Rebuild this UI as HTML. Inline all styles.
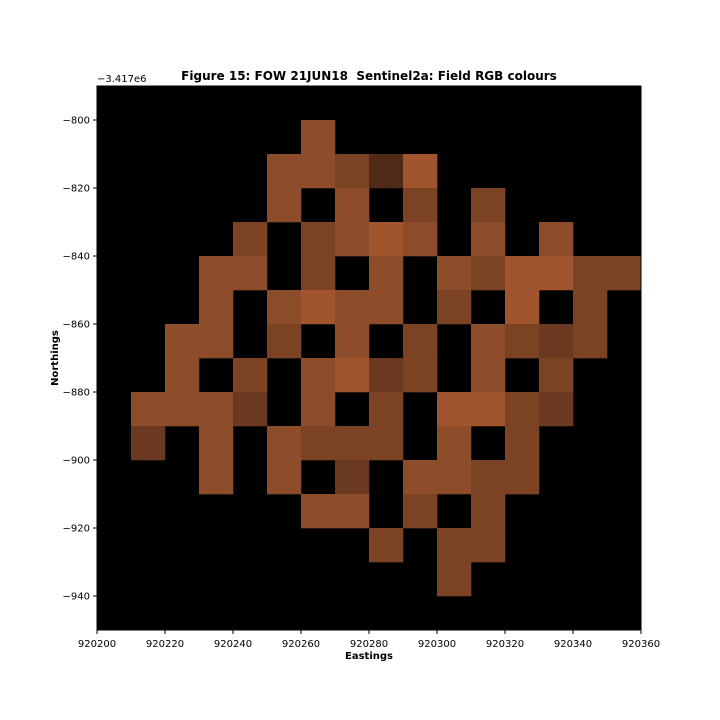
<!DOCTYPE html>
<html><head><meta charset="utf-8"><style>
html,body{margin:0;padding:0;background:#fff;}
svg{display:block;font-family:"DejaVu Sans","Liberation Sans",sans-serif;}
</style></head><body>
<svg id="chart" width="720" height="720" viewBox="0 0 720 720"></svg>
<script>
// Data
const xTicks = [920200,920220,920240,920260,920280,920300,920320,920340,920360];
const yTicks = [-800,-820,-840,-860,-880,-900,-920,-940];
const xOrigin = 920200;   // easting of first column
const yTopValue = -790;   // northing of top row
const cellSize = 10;
// grid rows from top; '.' empty, n normal, b bright, m medium-dark, k darker, d dark
const gridRows = [
"................",
"......n.........",
".....nnmdb......",
".....n.n.m.m....",
"....m.mnbn.n.n..",
"...nn.m.n.nmbbmm",
"...n.nbnn.m.b.m.",
"..nn.m.n.m.nmkm.",
"..n.m.nbkm.n.m..",
".nnnk.n.m.bbmk..",
".k.n.nmmm.n.m...",
"...n.n.k.nnmm...",
"......nn.m.m....",
"........m.mm....",
"..........m.....",
"................"
];
const palette = {n:"#8d4c2a", b:"#a0552f", m:"#7b4224", k:"#6b3820", d:"#4f2a17"};

const svg = document.getElementById('chart');
const NS = "http://www.w3.org/2000/svg";
const L=97, R=641, T=86, B=630;
const xMin=920200, xMax=920360, yMin=-950, yMax=-790;
const sx = v => L + (v-xMin)/(xMax-xMin)*(R-L);
const sy = v => T + (yMax-v)/(yMax-yMin)*(B-T);
function el(tag, attrs, parent){const e=document.createElementNS(NS,tag);for(const k in attrs)e.setAttribute(k,attrs[k]);(parent||svg).appendChild(e);return e;}

const bg = el('rect',{x:L,y:T,width:R-L,height:B-T,fill:'#000'});



const cells = el('g',{});


gridRows.forEach((row,r)=>{
  [...row].forEach((c,ci)=>{
    if(c==='.') return;
    const x0=xOrigin+ci*cellSize, yt=yTopValue-r*cellSize;
    const rc = el('rect',{x:sx(x0),y:sy(yt),width:sx(x0+cellSize)-sx(x0)+0.3,height:sy(yt-cellSize)-sy(yt)+0.3,fill:palette[c]},cells);
    
    
  });
});

const frame = el('rect',{x:L,y:T,width:R-L,height:B-T,fill:'none',stroke:'#000','stroke-width':1});



xTicks.forEach(v=>{
  const x=sx(v);
  el('line',{x1:x,y1:B,x2:x,y2:B+4,stroke:'#000'});
  const t=el('text',{x:x,y:B+17,'font-size':10,'text-anchor':'middle'});
  t.textContent=v;
  
  
});
yTicks.forEach(v=>{
  const y=sy(v);
  el('line',{x1:L-4,y1:y,x2:L,y2:y,stroke:'#000'});
  const t=el('text',{x:L-7,y:y+3.5,'font-size':10,'text-anchor':'end'});
  t.textContent='\u2212'+Math.abs(v);
  
  
});

const off=el('text',{x:L,y:T-4,'font-size':10});
off.textContent='\u22123.417e6';



const title=el('text',{x:369,y:80,'font-size':12,'font-weight':'bold','text-anchor':'middle',style:'white-space:pre'});
title.textContent='Figure 15: FOW 21JUN18  Sentinel2a: Field RGB colours';



const xl=el('text',{x:369,y:659,'font-size':10,'font-weight':'bold','text-anchor':'middle'});
xl.textContent='Eastings';



const yl=el('text',{x:58,y:358,'font-size':10,'font-weight':'bold','text-anchor':'middle',transform:'rotate(-90 58 358)'});
yl.textContent='Northings';


</script>
</body></html>
